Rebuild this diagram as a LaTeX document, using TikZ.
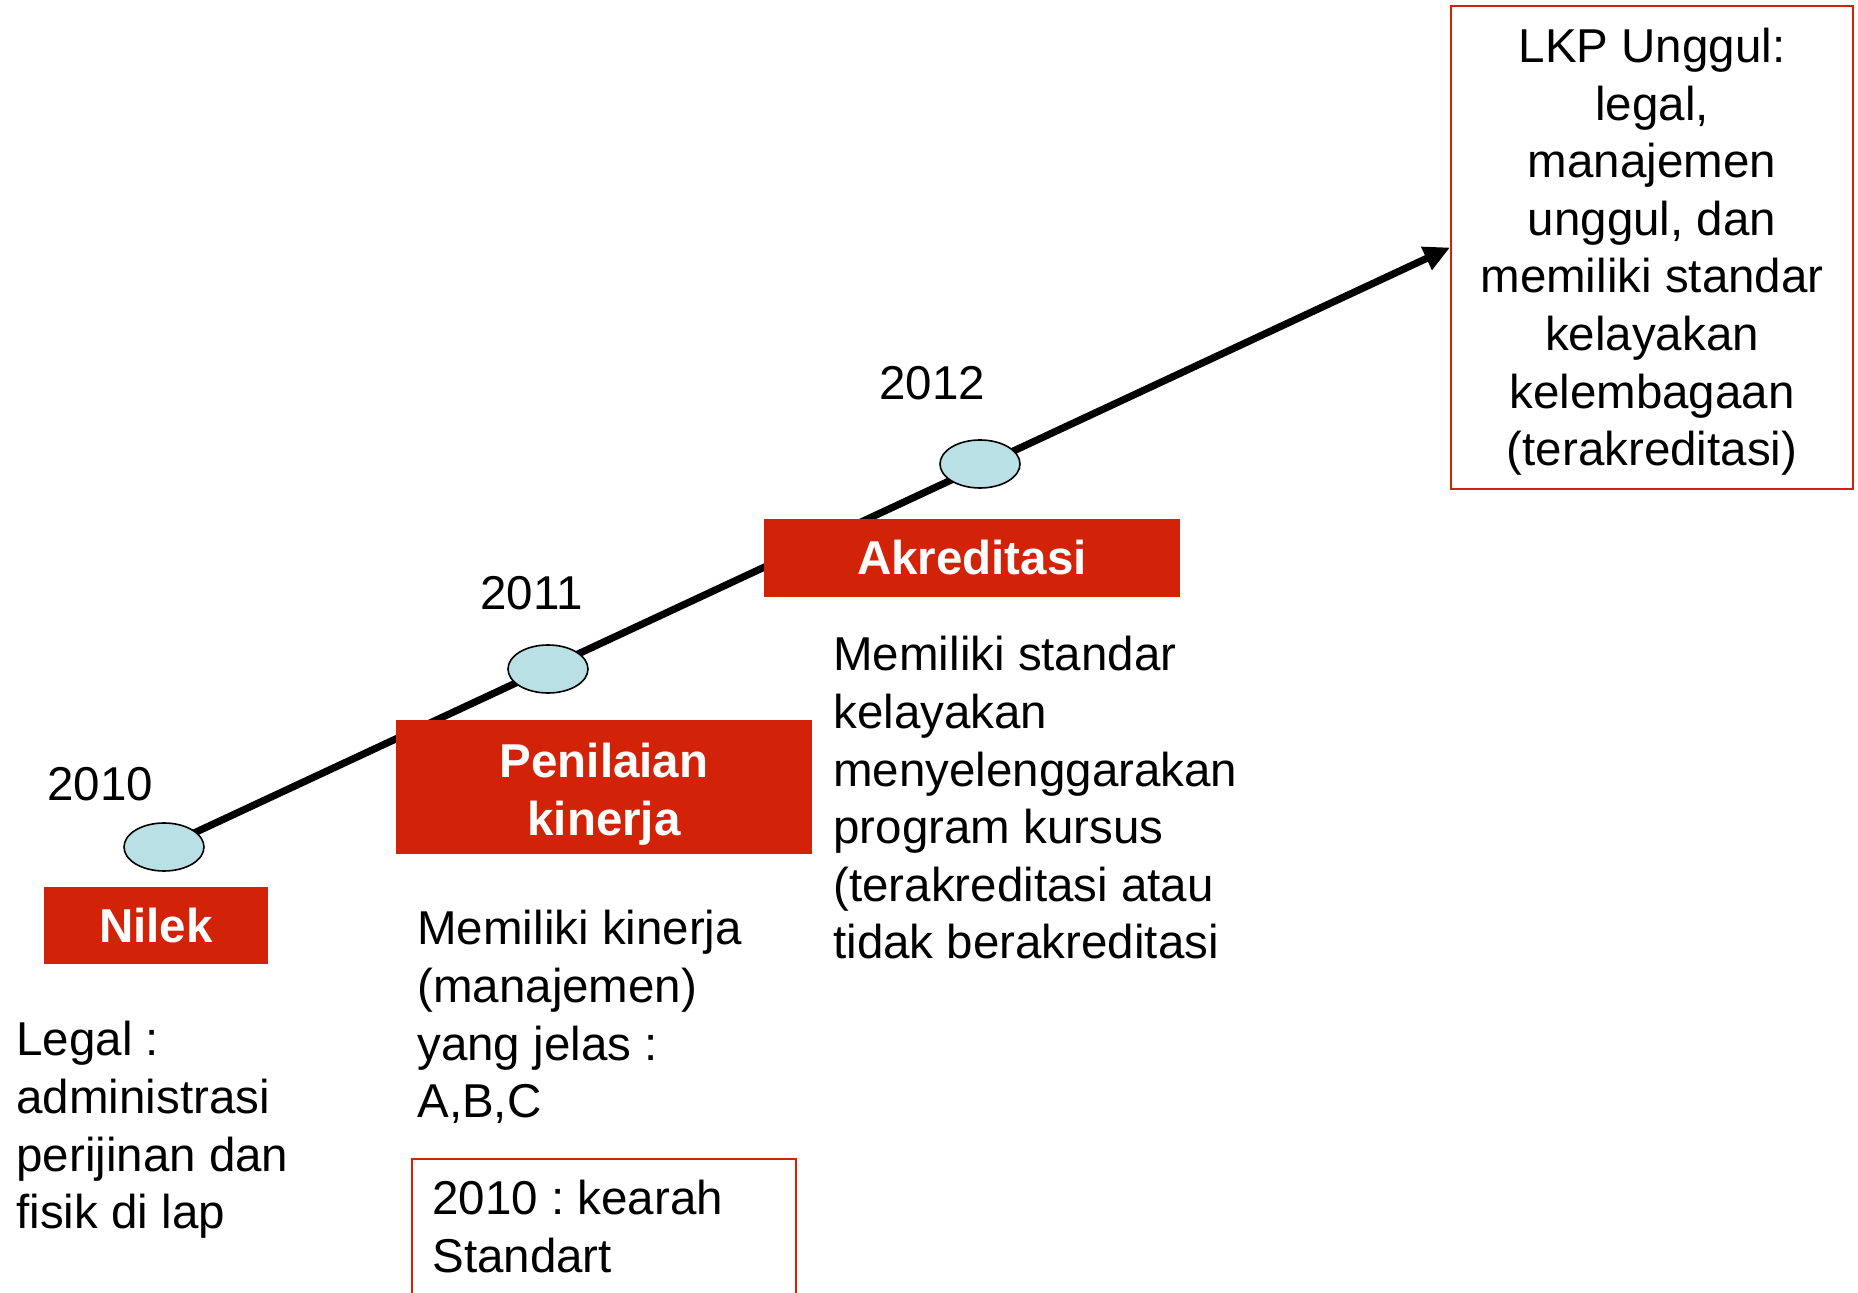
\documentclass[tikz,border=0pt]{standalone}
\usepackage{fontspec}
\setmainfont{Liberation Sans}
\usetikzlibrary{shapes.geometric,arrows.meta,backgrounds}
\definecolor{boxred}{RGB}{210,34,8}
\definecolor{dotblue}{RGB}{185,224,228}
\frenchspacing

\begin{document}
\begin{tikzpicture}[x=0.5pt,y=-0.5pt,
  every node/.style={font=\fontsize{23.75}{28.8}\selectfont, inner sep=0pt},
  stagebox/.style={fill=boxred, text=white, font=\fontsize{23.75}{28.8}\selectfont\bfseries, align=center},
  milestone/.style={ellipse, draw=black, line width=0.8pt, fill=dotblue, minimum width=40pt, minimum height=24pt},
  notetext/.style={anchor=north west, align=left},
  yearlabel/.style={anchor=base west},
  redframe/.style={draw=boxred, line width=1pt}]

  \useasboundingbox (0,0) rectangle (1858,1293);

  % Milestones on the time line
  \foreach \name/\x/\y in {t1/164/847, t2/548/669, t3/980/464}
    \node[milestone] (\name) at (\x,\y) {};

  % Target box
  \node[redframe, minimum width=201pt, minimum height=241.5pt, align=center] (lkp) at (1652,247.5)
    {\rule{0pt}{21.5pt}LKP Unggul:\\legal,\\manajemen\\unggul, dan\\memiliki standar\\kelayakan\\kelembagaan\\(terakreditasi)};

  % Draw the time line
  \begin{scope}[on background layer]
    \draw[line width=3.6pt, -{Triangle[length=13pt,width=12pt]}] (t1.center) -- (lkp.west);
  \end{scope}

  % Years
  \node[yearlabel] (y2010) at (47,800) {2010};
  \node[yearlabel] (y2011) at (480,610) {2011};
  \node[yearlabel] (y2012) at (879,400) {2012};

  % Stage boxes
  \node[stagebox, minimum width=112pt, minimum height=38.5pt] (nilek) at (156,925.5) {Nilek};
  \node[stagebox, minimum width=208pt, minimum height=67pt] (kinerja) at (604,787)
    {\rule{0pt}{24.5pt}Penilaian\\kinerja};
  \node[stagebox, minimum width=208pt, minimum height=39pt] (akred) at (972,558) {Akreditasi};

  % Descriptions
  \node[notetext] (legal) at (16,1021) {Legal :\\administrasi\\perijinan dan\\fisik di lap};
  \node[notetext] (jelas) at (417,910) {Memiliki kinerja\\(manajemen)\\yang jelas :\\A,B,C};
  \node[notetext] (standar) at (833,636)
    {Memiliki standar\\kelayakan\\menyelenggarakan\\program kursus\\(terakreditasi atau\\tidak berakreditasi};

  % Note box at the bottom
  \draw[redframe] (412,1159) rectangle (796,1310);
  \node[notetext] (arah) at (432,1180) {2010 : kearah\\Standart};
\end{tikzpicture}
\end{document}
